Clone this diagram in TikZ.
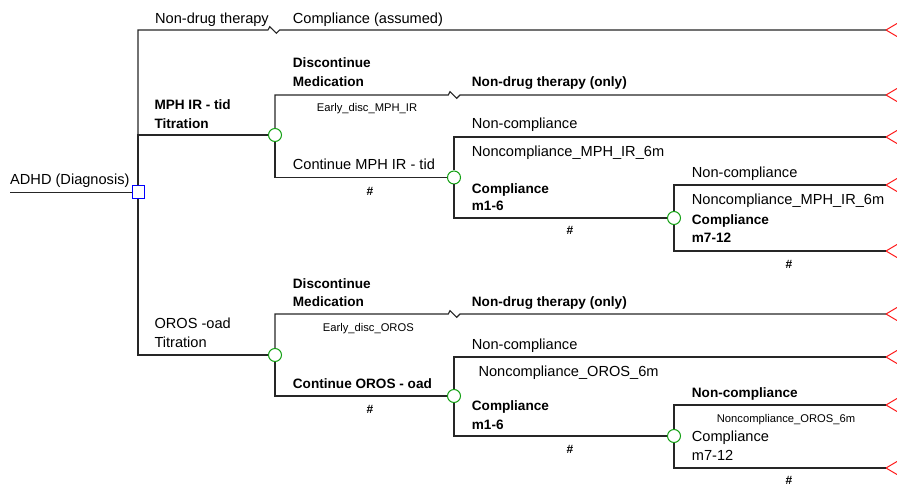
\documentclass[tikz,border=0pt]{standalone}
\usepackage{fontspec}
\setmainfont{Liberation Sans}
\begin{document}
\begin{tikzpicture}[x=1pt,y=-1pt]
\tikzset{
 lbl/.style={anchor=base west, inner sep=0pt, font=\fontsize{14.6}{16}\selectfont},
 blbl/.style={anchor=base west, inner sep=0pt, font=\fontsize{13.6}{16}\selectfont\bfseries},
 slbl/.style={anchor=base west, inner sep=0pt, font=\fontsize{11.2}{13}\selectfont},
 hashlbl/.style={inner sep=0pt, font=\fontsize{12}{13}\selectfont\bfseries},
 chance/.style={circle, draw={rgb,255:red,20;green,160;blue,20}, fill=white, minimum size=13pt, inner sep=0pt, line width=1pt},
 decision/.style={rectangle, draw=blue, fill=white, minimum width=12pt, minimum height=13pt, inner sep=0pt, line width=1pt},
 conn/.style={line width=1.1pt, draw=black!85},
 termarm/.style={draw=red!90, line width=1pt},
}
\path[use as bounding box] (0,0) rectangle (897,486);

% nodes
\node[decision] (dec) at (138,192.5) {};
\coordinate (start) at (10,192.5);
\node[chance] (c1) at (275,135) {};
\node[chance] (c2) at (454,177.5) {};
\node[chance] (c3) at (674,218) {};
\node[chance] (c4) at (275,355) {};
\node[chance] (c5) at (454,396) {};
\node[chance] (c6) at (674,436) {};

% terminals
\coordinate (t1) at (886,30);
\coordinate (t2) at (886,95);
\coordinate (t3) at (886,137);
\coordinate (t4) at (886,185);
\coordinate (t5) at (886,251);
\coordinate (t6) at (886,314);
\coordinate (t7) at (886,357);
\coordinate (t8) at (886,405);
\coordinate (t9) at (886,468);
\foreach \t in {t1,t2,t3,t4,t5,t6,t7,t8,t9}{
  \draw[termarm] (\t) -- ++(11,-6.5);
  \draw[termarm] (\t) -- ++(11,6.5);
}

% zigzag points
\coordinate (zT) at (268,30);
\coordinate (zA) at (448.3,95);
\coordinate (zB) at (448.3,314);

% connectors
\draw[conn] (start) -- (dec);
\draw[conn] (dec.north) |- (zT) -- ++(1.7,-3.3) -- ++(6.7,6.6) -- ++(3.3,-3.3) -- (t1);
\draw[conn] (dec.north) |- (c1);
\draw[conn] (dec.south) |- (c4);

\draw[conn] (c1.north) |- (zA) -- ++(1.7,-3.3) -- ++(6.7,6.6) -- ++(3.3,-3.3) -- (t2);
\draw[conn] (c1.south) |- (c2);
\draw[conn] (c2.north) |- (t3);
\draw[conn] (c2.south) |- (c3);
\draw[conn] (c3.north) |- (t4);
\draw[conn] (c3.south) |- (t5);

\draw[conn] (c4.north) |- (zB) -- ++(1.7,-3.3) -- ++(6.7,6.6) -- ++(3.3,-3.3) -- (t6);
\draw[conn] (c4.south) |- (c5);
\draw[conn] (c5.north) |- (t7);
\draw[conn] (c5.south) |- (c6);
\draw[conn] (c6.north) |- (t8);
\draw[conn] (c6.south) |- (t9);

% labels - top
\node[lbl] (l0) at (10,185) {ADHD (Diagnosis)};
\node[lbl] (l1) at (155,24) {Non-drug therapy};
\node[lbl] (l2) at (292.7,24) {Compliance (assumed)};

% MPH branch
\node[blbl] (m1) at (154.3,110) {MPH IR - tid};
\node[blbl] (m2) at (154.3,129) {Titration};
\node[blbl] (m3) at (292.7,68) {Discontinue};
\node[blbl] (m4) at (292.7,86.7) {Medication};
\node[blbl] (m5) at (471.7,87) {Non-drug therapy (only)};
\node[slbl] (m6) at (316.7,111.7) {Early\_disc\_MPH\_IR};
\node[lbl] (m7) at (292.7,170) {Continue MPH IR - tid};
\node[hashlbl] (m8) at (370,191.7) {\#};
\node[lbl] (m9) at (471.7,129) {Non-compliance};
\node[lbl] (m10) at (471.7,156.7) {Noncompliance\_MPH\_IR\_6m};
\node[blbl] (m11) at (471.7,193.3) {Compliance};
\node[blbl] (m12) at (471.7,210.7) {m1-6};
\node[hashlbl] (m13) at (570,230) {\#};
\node[lbl] (m14) at (691.7,177.3) {Non-compliance};
\node[lbl] (m15) at (691.7,205) {Noncompliance\_MPH\_IR\_6m};
\node[blbl] (m16) at (691.7,224.3) {Compliance};
\node[blbl] (m17) at (691.7,243) {m7-12};
\node[hashlbl] (m18) at (789,264) {\#};

% OROS branch
\node[lbl] (o1) at (154.3,329) {OROS -oad};
\node[lbl] (o2) at (154.3,347.3) {Titration};
\node[blbl] (o3) at (292.7,288.3) {Discontinue};
\node[blbl] (o4) at (292.7,306.7) {Medication};
\node[blbl] (o5) at (471.7,306.7) {Non-drug therapy (only)};
\node[slbl] (o6) at (322.7,331.7) {Early\_disc\_OROS};
\node[blbl] (o7) at (292.7,388.3) {Continue OROS - oad};
\node[hashlbl] (o8) at (370,409.3) {\#};
\node[lbl] (o9) at (471.7,349) {Non-compliance};
\node[lbl] (o10) at (478.3,376) {Noncompliance\_OROS\_6m};
\node[blbl] (o11) at (471.7,410) {Compliance};
\node[blbl] (o12) at (471.7,429) {m1-6};
\node[hashlbl] (o13) at (570,449) {\#};
\node[blbl] (o14) at (691.7,397.3) {Non-compliance};
\node[slbl] (o15) at (716.7,422.3) {Noncompliance\_OROS\_6m};
\node[lbl] (o16) at (691.7,441.7) {Compliance};
\node[lbl] (o17) at (691.7,460.7) {m7-12};
\node[hashlbl] (o18) at (789,480) {\#};
\end{tikzpicture}
\end{document}
